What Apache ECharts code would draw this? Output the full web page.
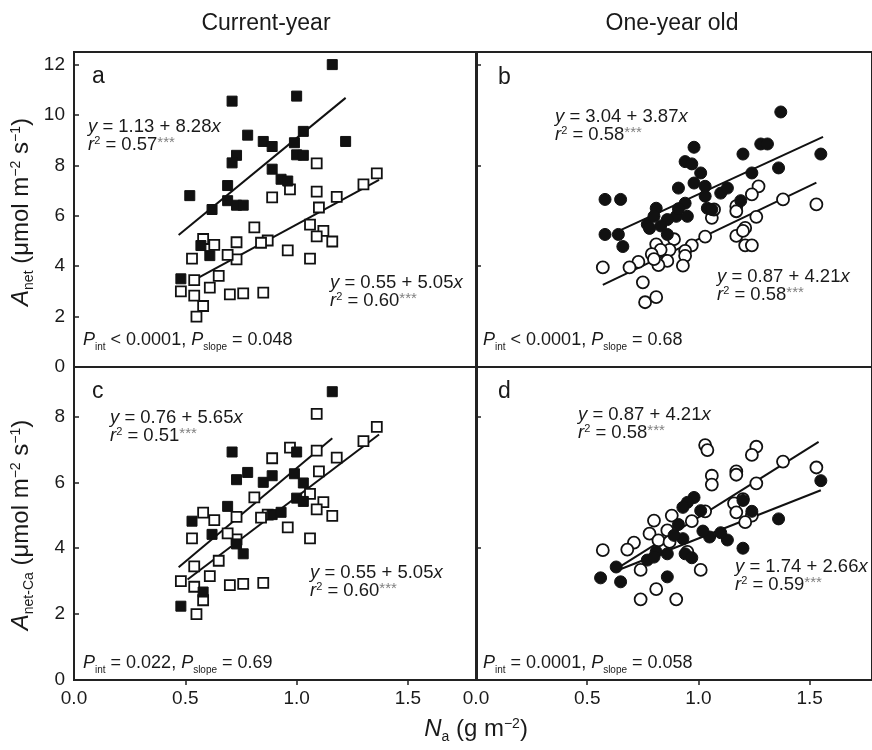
<!DOCTYPE html>
<html><head><meta charset="utf-8">
<script src="https://cdn.jsdelivr.net/npm/echarts@6/dist/echarts.min.js"></script>
<style>html,body{margin:0;padding:0;background:#fff}#c{width:872px;height:750px}</style>
</head><body><div id="c"></div>
<script>
// ---- data ----
const aFilled = [[1.16,12.0],[0.71,10.55],[1.00,10.75],[0.78,9.2],[0.85,8.95],[0.89,8.75],[1.03,9.35],[0.99,8.9],[1.22,8.95],[0.73,8.4],[0.71,8.1],[1.00,8.42],[1.03,8.4],[0.89,7.85],[0.93,7.45],[0.96,7.38],[0.69,7.2],[0.52,6.8],[0.69,6.6],[0.73,6.42],[0.76,6.42],[0.62,6.25],[0.57,4.82],[0.61,4.42],[0.48,3.5]];
const acOpen = [[1.36,7.68],[1.30,7.25],[1.09,8.08],[0.97,7.05],[1.09,6.96],[0.89,6.73],[1.18,6.75],[1.10,6.33],[1.06,5.65],[1.12,5.4],[1.09,5.18],[1.16,4.98],[0.81,5.54],[0.87,5.02],[0.84,4.93],[0.96,4.63],[1.06,4.3],[0.73,4.95],[0.73,4.27],[0.69,4.45],[0.63,4.85],[0.58,5.08],[0.53,4.3],[0.65,3.62],[0.54,3.45],[0.61,3.15],[0.48,3.0],[0.54,2.83],[0.58,2.42],[0.55,2.0],[0.70,2.88],[0.76,2.92],[0.85,2.95]];
const cFilled = [[1.16,8.75],[0.71,6.92],[1.00,6.92],[0.78,6.3],[0.73,6.08],[0.85,6.0],[0.89,6.2],[0.99,6.26],[1.03,5.98],[1.00,5.52],[1.03,5.42],[0.69,5.27],[0.89,5.02],[0.93,5.09],[0.53,4.82],[0.62,4.42],[0.73,4.13],[0.76,3.83],[0.58,2.67],[0.48,2.24]];
const bFilled = [[1.37,10.12],[1.55,8.45],[1.28,8.85],[1.31,8.85],[1.20,8.45],[1.36,7.9],[1.24,7.7],[0.98,8.72],[0.94,8.15],[0.97,8.06],[1.01,7.7],[0.91,7.1],[0.98,7.3],[1.03,7.17],[1.10,6.9],[1.13,7.1],[1.03,6.78],[1.04,6.3],[0.94,6.5],[1.19,6.6],[0.81,6.3],[0.77,5.66],[0.80,5.98],[0.90,5.98],[0.86,5.85],[0.83,5.6],[0.86,5.26],[0.78,5.5],[0.58,6.65],[0.65,6.65],[0.58,5.26],[0.64,5.26],[0.66,4.78],[0.95,5.98],[1.06,6.25],[0.91,6.28]];
const bOpen = [[1.53,6.45],[1.38,6.65],[1.27,7.17],[1.24,6.85],[1.26,5.96],[1.17,6.38],[1.17,6.18],[1.21,5.52],[1.17,5.2],[1.20,5.4],[1.21,4.83],[1.24,4.83],[1.06,5.92],[1.07,6.25],[1.03,5.17],[0.97,4.83],[0.94,4.61],[0.94,4.41],[0.93,4.02],[0.89,5.07],[0.87,4.65],[0.86,4.21],[0.82,4.04],[0.81,4.87],[0.83,4.65],[0.79,4.48],[0.80,4.28],[0.73,4.17],[0.69,3.95],[0.57,3.95],[0.75,3.36],[0.76,2.57],[0.81,2.77]];
const dFilled = [[1.55,6.05],[1.36,4.89],[1.20,5.45],[1.24,5.12],[1.20,4.0],[1.13,4.25],[1.10,4.47],[1.05,4.34],[1.02,4.52],[0.98,5.54],[0.95,5.39],[0.93,5.24],[1.01,5.14],[0.91,4.72],[0.93,4.29],[0.94,3.83],[0.97,3.71],[0.89,4.39],[0.86,3.83],[0.81,3.89],[0.77,3.64],[0.86,3.13],[0.63,3.43],[0.56,3.1],[0.65,2.98],[0.80,3.73]];
const dOpen = [[1.03,7.13],[1.04,6.98],[1.26,7.08],[1.24,6.83],[1.38,6.63],[1.53,6.45],[1.17,6.33],[1.17,6.23],[1.06,6.2],[1.06,5.93],[1.26,5.97],[1.20,5.49],[1.16,5.36],[1.17,5.09],[1.24,4.99],[1.21,4.79],[1.03,5.12],[0.97,4.82],[0.88,4.99],[0.80,4.84],[0.86,4.54],[0.78,4.44],[0.82,4.24],[0.87,4.19],[0.71,4.17],[0.68,3.96],[0.57,3.94],[0.95,3.89],[1.01,3.34],[0.74,3.34],[0.81,2.76],[0.74,2.45],[0.90,2.45]];
// regression line end points
const aLineF = [[0.47,5.24],[1.22,10.68]];
const aLineO = [[0.52,3.36],[1.37,7.43]];
const bLineF = [[0.64,5.39],[1.56,9.13]];
const bLineO = [[0.57,3.26],[1.53,7.32]];
const cLineF = [[0.47,3.42],[1.16,7.34]];
const cLineO = [[0.51,3.05],[1.37,7.45]];
const dLineF = [[0.64,3.34],[1.55,5.76]];
const dLineO = [[0.64,3.41],[1.54,7.23]];
// ticks / labels
const xTickLabels = [0, 0.5, 1.0, 1.5];
const xTicks = [0.5, 1.0, 1.5];
const yLabelsTop = [0,2,4,6,8,10,12];
const yLabelsBottom = [0,2,4,6,8];
const yTicksRightTop = [4,8,12];
const yTicksRightBottom = [4,8];
const columnTitles = ['Current-year','One-year old'];
const panelLetters = ['a','b','c','d'];
// annotation texts
const eqA1 = ['1.13 + 8.28', '0.57'];
const eqA2 = ['0.55 + 5.05', '0.60'];
const eqB1 = ['3.04 + 3.87', '0.58'];
const eqB2 = ['0.87 + 4.21', '0.58'];
const eqC1 = ['0.76 + 5.65', '0.51'];
const eqC2 = ['0.55 + 5.05', '0.60'];
const eqD1 = ['0.87 + 4.21', '0.58'];
const eqD2 = ['1.74 + 2.66', '0.59'];
const pA = ['< 0.0001', '= 0.048'];
const pB = ['< 0.0001', '= 0.68'];
const pC = ['= 0.022', '= 0.69'];
const pD = ['= 0.0001', '= 0.058'];

// ---- chart ----
const F = "'Liberation Sans', Arial, Helvetica, sans-serif";
const C = '#1a1a1a';
const chart = echarts.init(document.getElementById('c'), null, {renderer: 'canvas'});

function rich(S, subScale) {
  const ss = subScale || 0.6;
  return {
    i: {fontStyle: 'italic', fontSize: S, fontFamily: F, fill: C},
    sub: {fontSize: Math.round(S * ss), fontFamily: F, fill: C, verticalAlign: 'bottom', padding: [0, 0, -3, 0]},
    sup: {fontSize: Math.round(S * 0.6), fontFamily: F, fill: C, verticalAlign: 'top'},
    st: {fontSize: Math.round(S * 0.8), fontFamily: F, fill: '#808080', verticalAlign: 'top'}
  };
}
function T(x, y, text, S, subScale) {
  return {
    type: 'text', x: x, y: y, silent: true,
    style: {text: text, fontSize: S, fontFamily: F, fill: C, textVerticalAlign: 'middle', textAlign: 'left', rich: rich(S, subScale)}
  };
}
function eq(x, y, e) {
  return [T(x, y, '{i|y} = ' + e[0] + '{i|x}', 18.5), T(x, y + 18, '{i|r}{sup|2} = ' + e[1] + '{st|***}', 18.5)];
}
function pl(x, y, p) {
  return T(x, y, '{i|P}{sub|int} ' + p[0] + ', {i|P}{sub|slope} ' + p[1], 18, 0.55);
}
function center(x, y, text, S, rot) {
  return {type: 'text', x: x, y: y, rotation: rot || 0, silent: true,
    style: {text: text, fontSize: S, fontFamily: F, fill: C, textAlign: 'center', textVerticalAlign: 'middle', rich: rich(S)}};
}

const grids = [
  {left: 74, top: 52, width: 403, height: 315},
  {left: 476, top: 52, width: 396, height: 315},
  {left: 74, top: 367, width: 403, height: 313},
  {left: 476, top: 367, width: 396, height: 313}
].map(g => Object.assign(g, {show: true, borderColor: '#222', borderWidth: 2, backgroundColor: 'transparent'}));

const xMax = [1.81, 1.78, 1.81, 1.78];
const xAxes = [0,1,2,3].map(i => {
  const bottom = i >= 2;
  return {
    gridIndex: i, type: 'value', min: 0, max: xMax[i],
    axisLine: {show: false}, splitLine: {show: false},
    axisTick: {show: bottom, inside: false, length: 5, customValues: xTicks, lineStyle: {color: '#222', width: 1.5}},
    axisLabel: {show: bottom, customValues: xTickLabels, formatter: v => v.toFixed(1), fontSize: 19, fontFamily: F, color: C, margin: 9}
  };
});
const yAxes = [
  {max: 12.5, labels: yLabelsTop, ticks: [2,4,6,8,10,12], showLabel: true},
  {max: 12.5, labels: [], ticks: yTicksRightTop, showLabel: false},
  {max: 9.5, labels: yLabelsBottom, ticks: [2,4,6,8], showLabel: true},
  {max: 9.5, labels: [], ticks: yTicksRightBottom, showLabel: false}
].map((o, i) => ({
  gridIndex: i, type: 'value', min: 0, max: o.max,
  axisLine: {show: false}, splitLine: {show: false},
  axisTick: {show: true, inside: true, length: 5, customValues: o.ticks, lineStyle: {color: '#222', width: 1.5}},
  axisLabel: {show: o.showLabel, customValues: o.labels, fontSize: 19, fontFamily: F, color: C, margin: 9}
}));

function line(i, d) {
  return {type: 'line', xAxisIndex: i, yAxisIndex: i, data: d, showSymbol: false, symbol: 'none',
    lineStyle: {color: '#111', width: 2}, silent: true, z: 1};
}
function pts(i, d, shape, size, filled) {
  return {type: 'scatter', xAxisIndex: i, yAxisIndex: i, data: d, symbol: shape, symbolSize: size, silent: true,
    itemStyle: filled ? {color: '#111', borderColor: '#111', borderWidth: 1, opacity: 1}
                      : {color: '#fff', borderColor: '#111', borderWidth: 1.8, opacity: 1},
    z: filled ? 3 : 2};
}

const series = [
  line(0, aLineF), line(0, aLineO), pts(0, acOpen, 'rect', 10, false), pts(0, aFilled, 'rect', 10, true),
  line(1, bLineF), line(1, bLineO), pts(1, bOpen, 'circle', 12, false), pts(1, bFilled, 'circle', 12, true),
  line(2, cLineF), line(2, cLineO), pts(2, acOpen, 'rect', 10, false), pts(2, cFilled, 'rect', 10, true),
  line(3, dLineF), line(3, dLineO), pts(3, dOpen, 'circle', 12, false), pts(3, dFilled, 'circle', 12, true)
];

const graphic = [
  center(266, 24, columnTitles[0], 23),
  center(672, 24, columnTitles[1], 23),
  T(92, 77, panelLetters[0], 23), T(498, 78, panelLetters[1], 23),
  T(92, 392, panelLetters[2], 23), T(498, 392, panelLetters[3], 23),
  ...eq(88, 127, eqA1), ...eq(330, 283, eqA2),
  ...eq(555, 117, eqB1), ...eq(717, 277, eqB2),
  ...eq(110, 418, eqC1), ...eq(310, 573, eqC2),
  ...eq(578, 415, eqD1), ...eq(735, 567, eqD2),
  pl(83, 340, pA), pl(483, 340, pB), pl(83, 663, pC), pl(483, 663, pD),
  center(21, 212, '{i|A}{sub|net} (μmol m{sup|−2} s{sup|−1})', 24, Math.PI / 2),
  center(21, 525, '{i|A}{sub|net-Ca} (μmol m{sup|−2} s{sup|−1})', 24, Math.PI / 2),
  center(476, 729, '{i|N}{sub|a} (g m{sup|−2})', 24)
];

chart.setOption({
  animation: false,
  backgroundColor: '#fff',
  grid: grids, xAxis: xAxes, yAxis: yAxes, series: series, graphic: graphic
});
</script></body></html>
